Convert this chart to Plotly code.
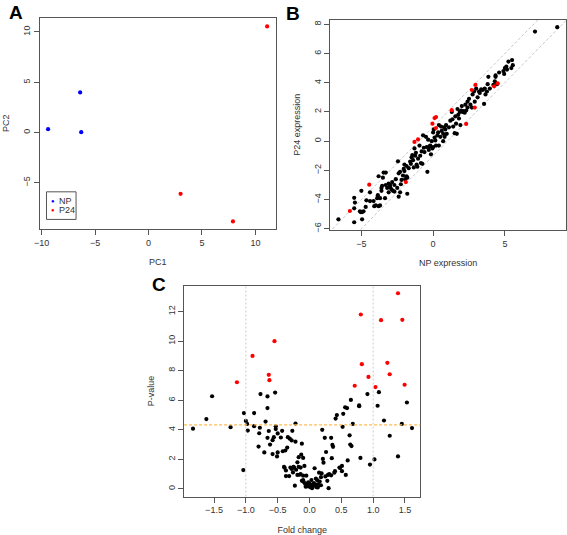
import plotly.graph_objects as go

# ---------------- Panel A data ----------------
pc1_np = [-9.4, -6.4, -6.3]
pc2_np = [0.33, 3.99, 0.03]
pc1_p24 = [11.1, 3.0, 7.9]
pc2_p24 = [10.55, -6.1, -8.85]

# ---------------- Panel B data ----------------
np_black = [-6.6, -5.5, -5.45, -5.5, -5.5, -5.05, -4.95, -4.85, -5.1, -5.0, -4.95,
            -4.7, -4.65, -4.4, -4.4, -4.15, -4.0, -4.1,
            -3.9, -3.85, -3.8, -3.7, -3.7, -3.6, -3.6, -3.55, -3.5, -3.45, -3.3, -3.35, -3.3, -3.2, -3.1, -3.1, -3.0, -3.0, -3.8,
            -2.9, -2.85, -2.8, -2.7, -2.7, -2.6, -2.5, -2.45, -2.4, -2.4, -2.3, -2.25, -2.2, -2.1, -2.05, -2.0, -2.0, -1.95, -2.3,
            -1.85, -1.85, -1.8, -1.8, -1.7, -1.6, -1.55, -1.5, -1.45, -1.4, -1.35, -1.3, -1.25, -1.2, -1.15, -1.1, -1.05,
            -0.95, -0.9, -0.85, -0.8, -0.75, -0.7, -0.65, -0.6, -0.5, -0.45, -0.4, -0.35, -0.3, -0.25, -0.2, -0.15, -0.1, -0.05, 0.0,
            0.0, 0.05, 0.1, 0.15, 0.2, 0.3, 0.35, 0.4, 0.4, 0.5, 0.55, 0.6, 0.7, 0.7, 0.75, 0.8, 0.85, 0.9, 0.95,
            1.1, 1.2, 1.3, 1.35, 1.4, 1.5, 1.55, 1.6, 1.65, 1.7, 1.75, 1.8, 1.85, 1.9, 1.95,
            2.0, 2.05, 2.1, 2.2, 2.25, 2.3, 2.4, 2.4, 2.5, 2.6, 2.7, 2.75, 2.85, 2.9, 3.0,
            3.1, 3.2, 3.25, 3.35, 3.45, 3.55, 3.6, 3.65, 3.75, 3.8, 3.85, 3.95,
            4.2, 4.3, 4.35, 4.35, 4.45, 4.6, 4.9, 4.95, 5.0, 5.1, 5.15, 5.25, 5.45, 5.5, 5.55,
            7.1, 8.65]
p24_black = [-5.35, -3.88, -4.2, -4.6, -5.55, -4.85, -4.85, -4.8, -4.8, -3.4, -5.35,
             -4.5, -4.05, -4.1, -3.5, -4.1, -4.4, -4.45,
             -3.9, -3.7, -4.45, -4.4, -3.9, -3.4, -3.2, -3.05, -2.5, -2.15, -2.15, -3.9, -3.0, -3.2, -2.9, -3.5, -3.15, -3.0, -2.4,
             -3.3, -2.8, -3.4, -3.45, -3.0, -2.6, -3.2, -1.38, -3.8, -2.2, -2.1, -2.95, -2.65, -2.35, -1.9, -2.05, -1.6, -2.6, -3.5,
             -1.7, -2.4, -2.5, -3.6, -1.85, -1.4, -1.55, -1.1, -0.95, -1.3, -1.8, -0.5, -1.0, -0.8, -1.6, -1.75, -1.2,
             -0.3, -1.0, -1.5, -0.7, -1.55, 0.4, -0.45, -0.75, 0.3, -0.4, -2.1, 0.1, -0.6, -0.35, -0.3, -0.9, 0.0, -0.5, -0.4,
             0.6, 0.8, 0.25, 0.05, -0.3, 0.4, 0.6, -0.3, 1.1, 0.3, 1.0, 0.7, 0.0, 0.5, 0.95, 0.3, 0.8, 1.1, 0.5,
             0.95, 1.4, 2.0, 1.5, 1.0, 0.55, 1.7, 1.2, 0.5, 2.2, 1.8, 1.55, 2.0, 1.1, 2.1,
             2.4, 2.0, 2.05, 1.95, 2.5, 2.1, 2.3, 2.7, 2.9, 2.5, 2.3, 3.2, 3.4, 2.7, 3.6,
             3.0, 3.4, 3.3, 3.55, 3.5, 2.55, 3.6, 3.2, 3.4, 3.9, 4.4, 3.6,
             3.85, 4.1, 4.4, 4.5, 3.9, 4.7, 4.8, 4.6, 5.0, 5.1, 4.9, 5.45, 5.0, 5.55, 5.2,
             7.5, 7.8]
np_red = [-5.8, -4.45, -1.9, -1.3, -1.05, -0.05, 0.1, 0.2, 0.2, 1.3, 2.3, 2.7, 2.95, 2.9, 4.25, 4.5]
p24_red = [-4.78, -2.98, -2.8, -0.05, 0.12, 1.2, 1.58, 1.65, 0.9, 2.12, 1.18, 3.5, 3.85, 2.3, 3.75, 3.95]
diag_offset = 1.0

# ---------------- Panel C data ----------------
fc_black = [-1.83, -1.62, -1.53, -1.24, -1.04, -1.03, -1.0, -0.98, -0.97,
            -0.87, -0.87, -0.80, -0.79, -0.78, -0.77, -0.71, -0.69, -0.66, -0.66, -0.66, -0.64, -0.62, -0.58, -0.58,
            -0.56, -0.54, -0.53, -0.53, -0.51, -0.50, -0.50, -0.45, -0.43, -0.42, -0.40, -0.39, -0.38, -0.37, -0.37,
            -0.35, -0.34, -0.32, -0.31, -0.30, -0.28, -0.28, -0.27, -0.26, -0.24, -0.23, -0.22, -0.22, -0.21, -0.19,
            -0.17, -0.17, -0.16, -0.14, -0.14, -0.13, -0.12, -0.10, -0.10, -0.10, -0.09, -0.08, -0.07, -0.05, -0.05,
            -0.04, -0.02, -0.01, 0.0, 0.01, 0.02, 0.03, 0.04, 0.05, 0.06, 0.08, 0.09, 0.10, 0.11, 0.12, 0.13, 0.13,
            0.15, 0.15, 0.16, 0.18, 0.18, 0.19, 0.20, 0.21, 0.22, 0.24, 0.26, 0.28, 0.30, 0.31, 0.34, 0.34, 0.35,
            0.36, 0.37, 0.39, 0.40, 0.41, 0.43, 0.48, 0.51, 0.51, 0.52, 0.53, 0.56, 0.57, 0.59, 0.60, 0.63, 0.64,
            0.65, 0.66, 0.68, 0.78, 0.78, 0.80, 0.91, 0.95, 1.02, 1.07, 1.09, 1.17, 1.26, 1.39, 1.45, 1.53, 1.61,
            -0.06, -0.03, 0.07, 0.11, -0.12, 0.25, 0.29, 0.47, -0.19, -0.25]
pv_black = [4.08, 4.73, 6.27, 4.18, 1.28, 5.13, 4.6, 4.4, 3.95,
            5.13, 4.25, 2.87, 3.77, 4.14, 6.42, 2.47, 4.56, 6.26, 5.47, 3.46, 3.92, 3.0, 3.3, 2.36,
            3.5, 6.52, 4.24, 4.05, 2.2, 2.47, 3.76, 3.48, 3.93, 2.55, 1.49, 1.43, 2.6, 0.87, 1.25,
            2.8, 3.5, 0.87, 3.4, 1.45, 1.35, 3.28, 3.93, 1.12, 1.43, 0.22, 4.42, 3.2, 1.3, 1.8,
            2.15, 1.5, 0.96, 1.0, 1.45, 2.32, 3.06, 2.1, 0.9, 0.6, 0.47, 1.56, 0.36, 0.3, 0.9,
            0.18, 0.45, 0.22, 0.35, 0.12, 0.27, 0.6, 0.05, 0.22, 0.35, 1.4, 0.22, 0.7, 0.12, 0.6, 0.1, 0.32,
            0.25, 1.1, 0.5, 0.8, 0.25, 1.05, 4.0, 2.03, 1.78, 3.46, 2.5, 0.55, 0.05, 1.0, 3.46, 0.92, 2.08,
            2.98, 2.85, 1.1, 1.2, 4.76, 5.0, 1.43, 1.56, 1.2, 4.2, 5.08, 5.52, 0.95, 5.47, 1.93, 3.63, 3.0,
            6.02, 2.9, 4.4, 5.65, 5.6, 2.1, 6.42, 1.65, 2.0, 5.63, 6.55, 4.63, 3.6, 2.2, 4.4, 5.85, 4.12,
            0.15, 0.3, 0.4, 0.28, 0.55, 0.85, 0.95, 1.45, 0.95, 1.5]
fc_red = [-1.14, -0.895, -0.64, -0.63, -0.55, 0.71, 0.806, 0.822, 0.926, 1.036, 1.124, 1.223, 1.26, 1.39, 1.458, 1.494]
pv_red = [7.22, 9.0, 7.72, 7.36, 10.0, 6.98, 11.8, 8.44, 7.58, 6.89, 11.42, 8.53, 7.76, 13.24, 11.44, 7.05]
fc_cutoffs = [-1.0, 1.0]
pv_cutoff = 4.33

W, H = 567, 535
FONT = "Liberation Sans, Arial, sans-serif"
LINE = "#555555"
TXT = "#333333"
MS = 4.2

fig = go.Figure()

def dots(x, y, color, xa, ya):
    fig.add_trace(go.Scatter(x=x, y=y, mode="markers", xaxis=xa, yaxis=ya,
                             marker=dict(size=MS, color=color, line=dict(width=0)),
                             showlegend=False, hoverinfo="skip"))

# A
dots(pc1_np, pc2_np, "#0000FF", "x", "y")
dots(pc1_p24, pc2_p24, "#FF0000", "x", "y")
# B diagonals
bx = [-7.5, 9.5]
for off in (diag_offset, -diag_offset):
    fig.add_trace(go.Scatter(x=bx, y=[v + off for v in bx], mode="lines", xaxis="x2", yaxis="y2",
                             line=dict(color="#C8C8C8", width=1, dash="3px,2px"),
                             showlegend=False, hoverinfo="skip"))
dots(np_black, p24_black, "#000000", "x2", "y2")
dots(np_red, p24_red, "#FF0000", "x2", "y2")
# C
for c in fc_cutoffs:
    fig.add_shape(type="line", xref="x3", yref="y3 domain", x0=c, x1=c, y0=0, y1=1,
                  line=dict(color="#CCCCCC", width=1, dash="2px,2px"))
fig.add_shape(type="line", xref="x3 domain", yref="y3", x0=0, x1=1, y0=pv_cutoff, y1=pv_cutoff,
              line=dict(color="#FFBB55", width=1.2, dash="3px,2px"))
dots(fc_black, pv_black, "#000000", "x3", "y3")
dots(fc_red, pv_red, "#FF0000", "x3", "y3")

def ax(domain, rng, dtick, title, standoff, tick0=0, angle=None, anchor=None):
    d = dict(domain=domain, range=rng, dtick=dtick, tick0=tick0, showline=True, mirror=True,
             linecolor=LINE, linewidth=1, ticks="outside", ticklen=5, tickcolor=LINE,
             showgrid=False, zeroline=False, tickfont=dict(size=9, color=TXT, family=FONT),
             title=dict(text=title, font=dict(size=9, color=TXT, family=FONT), standoff=standoff))
    if angle is not None:
        d["tickangle"] = angle
    if anchor:
        d["anchor"] = anchor
    return d

def fx(px):
    return px / W

def fy(py):
    return 1 - py / H

fig.update_layout(
    width=W, height=H, margin=dict(l=0, r=0, t=0, b=0),
    paper_bgcolor="white", plot_bgcolor="white",
    xaxis=ax([fx(34), fx(273)], [-10.19, 11.94], 5, "PC1", 12, anchor="y"),
    yaxis=ax([fy(230), fy(18)], [-9.57, 11.4], 5, "PC2", 10, angle=-90, anchor="x"),
    xaxis2=ax([fx(327.7), fx(566)], [-7.17, 9.26], 5, "NP expression", 12, anchor="y2"),
    yaxis2=ax([fy(231), fy(20)], [-6.06, 8.3], 2, "P24 expression", 10, angle=-90, anchor="x2"),
    xaxis3=ax([fx(180), fx(418.7)], [-1.97, 1.74], 0.5, "Fold change", 12, tick0=0, anchor="y3"),
    yaxis3=ax([fy(499.3), fy(287.3)], [-0.51, 13.75], 2, "P-value", 10, angle=-90, anchor="x3"),
    font=dict(family=FONT),
)
fig.layout.xaxis3.tickformat = ".1f"

# panel letters
for letter, x, y in [("A", 1, 0), ("B", 281, 1), ("C", 146, 274)]:
    fig.add_annotation(text="<b>%s</b>" % letter, xref="paper", yref="paper", x=fx(x), y=fy(y),
                       xanchor="left", yanchor="top", showarrow=False,
                       font=dict(size=19, color="black", family=FONT))

# legend of panel A
fig.add_shape(type="rect", xref="x domain", yref="y domain", x0=0.029, x1=0.154, y0=0.044, y1=0.175,
              line=dict(color=LINE, width=1), fillcolor="white", layer="below")
for name, col, ly in [("NP", "#0000FF", 0.131), ("P24", "#FF0000", 0.087)]:
    fig.add_annotation(text="●", xref="x domain", yref="y domain", x=0.057, y=ly, showarrow=False,
                       font=dict(size=6, color=col), xanchor="center", yanchor="middle")
    fig.add_annotation(text=name, xref="x domain", yref="y domain", x=0.075, y=ly, showarrow=False,
                       font=dict(size=9, color=TXT, family=FONT), xanchor="left", yanchor="middle")

fig.write_html("out.html", config={"displayModeBar": False},
               post_script="document.body.style.margin='0';document.body.style.overflow='hidden';")
